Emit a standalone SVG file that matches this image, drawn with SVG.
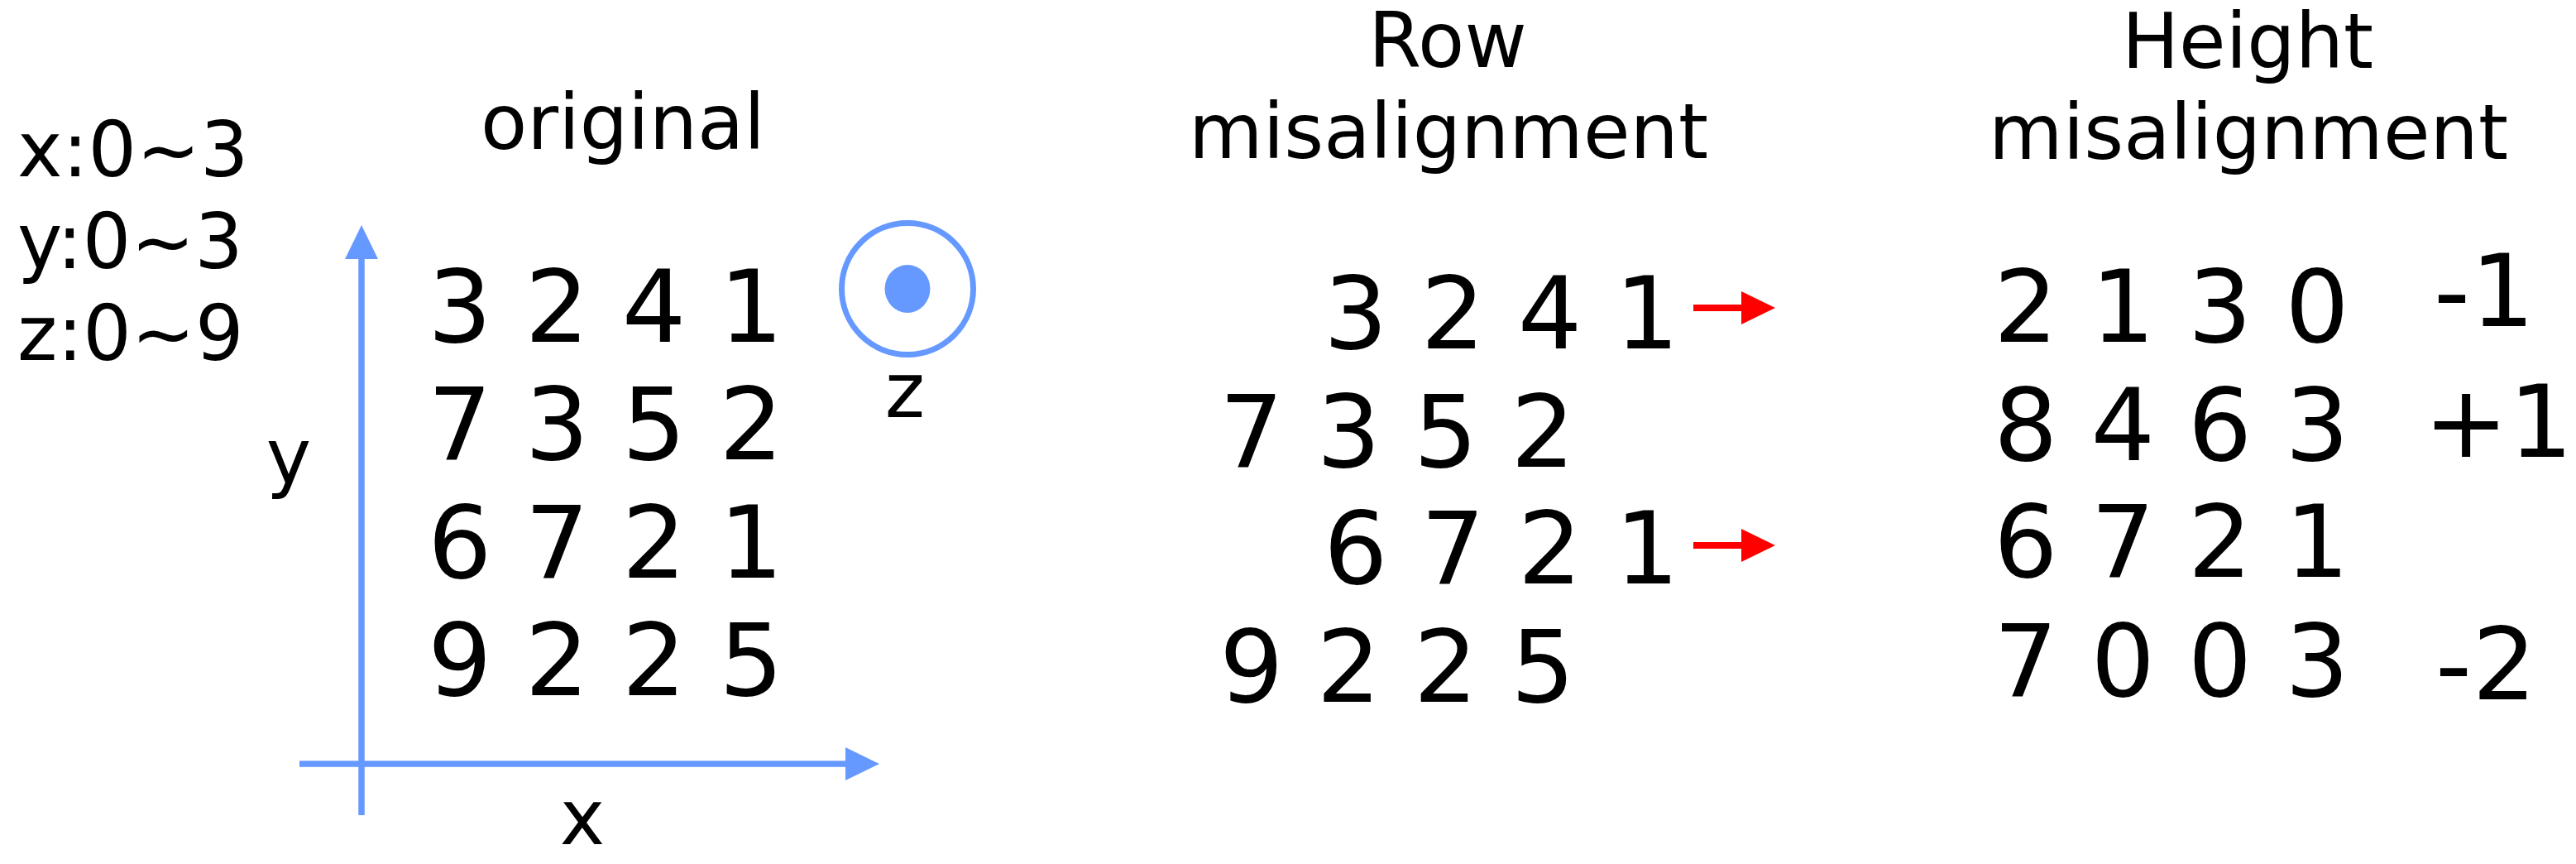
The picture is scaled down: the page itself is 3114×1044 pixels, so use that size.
<svg xmlns="http://www.w3.org/2000/svg" width="3114" height="1044" viewBox="0 0 3114 1044">
  <style>
    text { font-family: "DejaVu Sans", "Liberation Sans", sans-serif; fill: #000; }
    .lbl { font-size: 92px; }
    .mid { text-anchor: middle; }
    .grid { font-size: 122px; letter-spacing: 0.5px; white-space: pre; }
    .axis { stroke: #6699FF; stroke-width: 7.5; fill: none; }
    .shift { stroke: #FF0000; stroke-width: 8; fill: none; }
  </style>
  <defs>
    <marker id="blueHead" markerUnits="userSpaceOnUse" markerWidth="41" markerHeight="40" refX="0" refY="20" orient="auto" viewBox="0 0 41 40">
      <path d="M0,0 L41,20 L0,40 Z" fill="#6699FF"/>
    </marker>
    <marker id="redHead" markerUnits="userSpaceOnUse" markerWidth="41" markerHeight="40" refX="0" refY="20" orient="auto" viewBox="0 0 41 40">
      <path d="M0,0 L41,20 L0,40 Z" fill="#FF0000"/>
    </marker>
  </defs>
  <rect width="3114" height="1044" fill="#FFFFFF"/>

  <g id="legend">
    <text class="lbl" x="21" y="213">x:0~3</text>
    <text class="lbl" x="21" y="324">y:0~3</text>
    <text class="lbl" x="21" y="435">z:0~9</text>
  </g>

  <g id="original">
    <text class="lbl mid" x="753" y="180">original</text>
    <text class="grid" x="517" y="413">3 2 4 1</text>
    <text class="grid" x="517" y="555">7 3 5 2</text>
    <text class="grid" x="517" y="698">6 7 2 1</text>
    <text class="grid" x="517" y="840">9 2 2 5</text>
  </g>

  <g id="axis-labels">
    <text class="lbl mid" x="349" y="584">y</text>
    <text class="lbl mid" x="704" y="1020">x</text>
    <text class="lbl mid" x="1094" y="504">z</text>
  </g>

  <g id="z-axis-symbol">
    <circle cx="1097" cy="349" r="79.5" fill="none" stroke="#6699FF" stroke-width="7"/>
    <ellipse cx="1097" cy="349" rx="27.5" ry="29" fill="#6699FF"/>
  </g>

  <g id="row-misalignment">
    <text class="lbl mid" x="1750" y="81">Row</text>
    <text class="lbl mid" x="1751" y="191">misalignment</text>
    <text class="grid" x="1600" y="421">3 2 4 1</text>
    <text class="grid" x="1474" y="564">7 3 5 2</text>
    <text class="grid" x="1600" y="705">6 7 2 1</text>
    <text class="grid" x="1474" y="848">9 2 2 5</text>
  </g>

  <g id="height-misalignment">
    <text class="lbl mid" x="2717" y="82">Height</text>
    <text class="lbl mid" x="2718" y="192">misalignment</text>
    <text class="grid" x="2410" y="413">2 1 3 0</text>
    <text class="grid" x="2410" y="556">8 4 6 3</text>
    <text class="grid" x="2410" y="697">6 7 2 1</text>
    <text class="grid" x="2410" y="841">7 0 0 3</text>
    <text class="grid" x="2942" y="394">-1</text>
    <text class="grid" x="2930" y="552">+1</text>
    <text class="grid" x="2944" y="845">-2</text>
  </g>

  <g id="connectors">
    <line class="axis" x1="437" y1="985" x2="437" y2="313" marker-end="url(#blueHead)"/>
    <line class="axis" x1="362" y1="923" x2="1022" y2="923" marker-end="url(#blueHead)"/>
    <line class="shift" x1="2047" y1="372" x2="2105" y2="372" marker-end="url(#redHead)"/>
    <line class="shift" x1="2047" y1="659" x2="2105" y2="659" marker-end="url(#redHead)"/>
  </g>
</svg>
